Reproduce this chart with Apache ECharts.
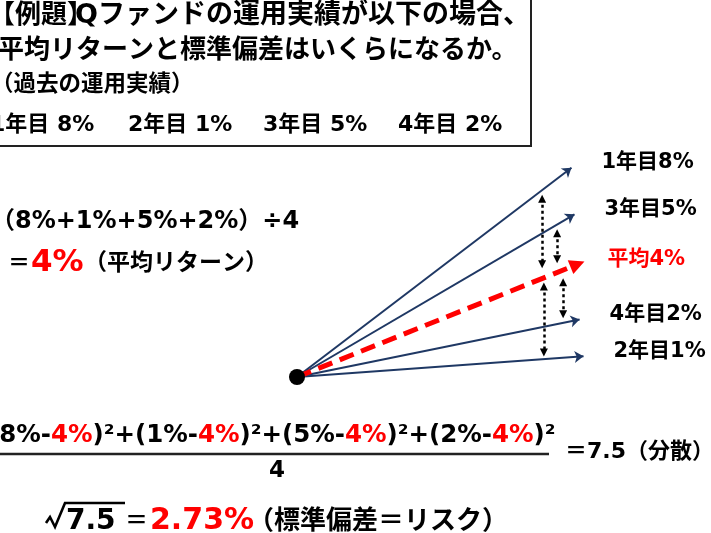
<!DOCTYPE html>
<html><head><meta charset="utf-8">
<script src="https://cdn.jsdelivr.net/npm/echarts@6/dist/echarts.min.js"></script>
<style>html,body{margin:0;padding:0;background:#fff}#c{width:711px;height:533px}</style>
</head><body><div id="c"></div>
<script>
// ---- data ----
const years = ['1年目', '2年目', '3年目', '4年目'];
const returns = [8, 1, 5, 2];            // 運用実績 (%)
const meanReturn = 4;                    // 平均リターン (%)
const variance = 7.5;                    // 分散
const stdDev = 2.73;                     // 標準偏差 (%)
// fan diagram: arrow tips as drawn in the picture (x: run, y: rise)
const tipX = [9.15, 9.55, 9.25, 9.42];
const tipY = [7.28, 0.72, 5.66, 2.0];
const meanTip = [9.35, 3.92];
// dotted deviation arrows: [x, yFrom, yTo]
const devX = [8.17, 8.67, 8.23, 8.87];
const devFrom = [6.2, 5.0, 3.15, 3.3];
const devTo = [3.92, 4.1, 0.85, 2.18];

const FF = "'DejaVu Sans','Noto Sans CJK JP',sans-serif";
const NAVY = '#1f3864';
const RED = '#ff0000';

function T(x, y, text, size, color, extra) {
  return {
    type: 'text', x: x, y: y, z: 10,
    style: Object.assign({
      text: text, fontSize: size, fontFamily: FF, fontWeight: 'bold',
      fill: color || '#000', align: 'left', verticalAlign: 'middle'
    }, extra || {})
  };
}

const graphics = [];
// title box
graphics.push({type: 'rect', shape: {x: -10, y: -10, width: 541, height: 156},
  style: {fill: 'none', stroke: '#222', lineWidth: 2}});
graphics.push(T(-11, 16, '【例題】', 26));
graphics.push(T(75, 16, 'Qファンドの運用実績が以下の場合、', 27));
graphics.push(T(-2, 51, '平均リターンと標準偏差はいくらになるか。', 26));
graphics.push(T(-9, 85, '（過去の運用実績）', 22.5));
const groupX = [-10, 128, 263, 398];
years.forEach((y, i) => graphics.push(T(groupX[i], 125, y + ' ' + returns[i] + '%', 22)));

// mean calc
graphics.push(T(-9, 222, '（' + returns.map(r => r + '%').join('+') + '）÷' + returns.length, 24));
graphics.push(T(8, 264, '＝', 22));
graphics.push(T(31, 263, meanReturn + '%', 31, RED));
graphics.push(T(84, 264, '（平均リターン）', 23));

// variance formula
let num = '';
returns.forEach((r, i) => {
  num += '{k|' + (i ? '+' : '') + '(' + r + '%-}{r|' + meanReturn + '%}{k|)²}';
});
graphics.push({type: 'text', x: -12, y: 436, z: 10, style: {
  text: num, verticalAlign: 'middle', align: 'left',
  rich: {
    k: {fontSize: 24.5, fontFamily: FF, fontWeight: 'bold', fill: '#000'},
    r: {fontSize: 24.5, fontFamily: FF, fontWeight: 'bold', fill: RED}
  }}});
graphics.push({type: 'line', shape: {x1: 0, y1: 454, x2: 549, y2: 454},
  style: {stroke: '#222', lineWidth: 2.5}});
graphics.push(T(277, 471, String(returns.length), 23, '#000', {align: 'center'}));
graphics.push(T(565, 452, '＝' + variance + '（分散）', 22));

// std dev
graphics.push({type: 'polyline', shape: {points: [[46, 523], [50, 517], [55, 527], [65, 503], [125, 503]]},
  style: {stroke: '#000', lineWidth: 2.6, fill: 'none', lineJoin: 'miter'}});
graphics.push(T(66, 522, String(variance), 28));
graphics.push(T(125, 522, '＝', 23));
graphics.push(T(150, 521, stdDev + '%', 30, RED));
graphics.push(T(248, 522, '（標準偏差＝リスク）', 26));

const labelData = years.map((y, i) => ({
  value: [tipX[i], tipY[i]],
  label: {formatter: y + returns[i] + '%'}
}));
labelData.push({value: meanTip, label: {formatter: '平均' + meanReturn + '%', color: RED}});

const option = {
  animation: false,
  backgroundColor: '#fff',
  grid: {left: 297, top: 147, width: 300, height: 230},
  xAxis: {type: 'value', min: 0, max: 10, show: false},
  yAxis: {type: 'value', min: 0, max: 8, show: false},
  graphic: graphics,
  series: [
    {
      type: 'lines', coordinateSystem: 'cartesian2d', z: 2,
      symbol: ['none', 'arrow'], symbolSize: 9,
      lineStyle: {color: NAVY, width: 2, opacity: 1, curveness: 0},
      data: years.map((y, i) => ({coords: [[0, 0], [tipX[i], tipY[i]]]}))
    },
    {
      type: 'lines', coordinateSystem: 'cartesian2d', z: 3,
      symbol: ['none', 'triangle'], symbolSize: [17, 15],
      lineStyle: {color: RED, width: 5, opacity: 1, type: [15, 8], curveness: 0},
      data: [{coords: [[0, 0], meanTip]}]
    },
    {
      type: 'lines', coordinateSystem: 'cartesian2d', z: 3,
      symbol: ['triangle', 'triangle'], symbolSize: [8, 8],
      lineStyle: {color: '#000', width: 2.5, opacity: 1, type: [3, 3], curveness: 0},
      data: devX.map((x, i) => ({coords: [[x, devFrom[i]], [x, devTo[i]]]}))
    },
    {
      type: 'scatter', z: 5, clip: false, symbolSize: 16,
      itemStyle: {color: '#000', opacity: 1}, data: [[0, 0]]
    },
    {
      type: 'scatter', z: 5, clip: false, symbolSize: 0,
      itemStyle: {opacity: 1},
      label: {show: true, position: 'right', distance: 30, offset: [0, -5],
        fontSize: 21, fontWeight: 'bold', fontFamily: FF, color: '#000'},
      data: labelData
    }
  ]
};
const chart = echarts.init(document.getElementById('c'));
chart.setOption(option);
</script></body></html>
